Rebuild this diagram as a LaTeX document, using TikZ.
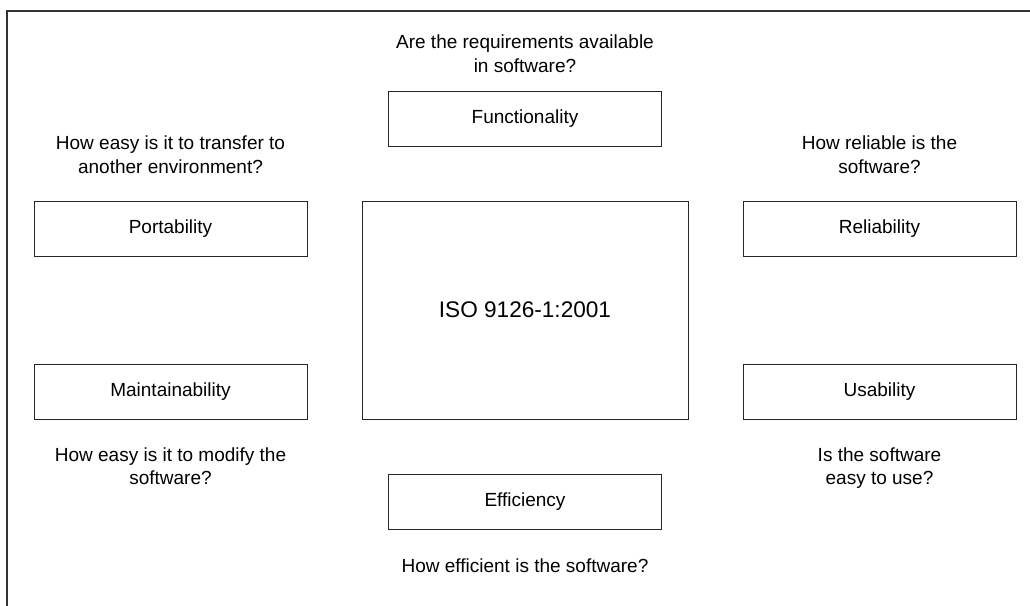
\documentclass[tikz,border=0pt]{standalone}
\usepackage{fontspec}
\setmainfont{Liberation Sans}
\usetikzlibrary{positioning}

\begin{document}
\begin{tikzpicture}[
  x=0.5pt, y=-0.5pt,
  every node/.style={font=\fontsize{9.5}{11.65}\selectfont, align=center},
  box/.style={draw=black!85, line width=0.5pt, inner sep=0pt},
  quality/.style={box, minimum width=136.5pt, minimum height=27.5pt},
  standard/.style={box, minimum width=163pt, minimum height=109pt, font=\fontsize{11.3}{13.8}\selectfont},
  question/.style={inner sep=0pt}
]
\useasboundingbox (0,0) rectangle (1030,606);
% frame
\draw[black!80, line width=1pt] (7,606) -- (7,11) -- (1030,11);

\node[standard] (iso) at (525,310) {ISO 9126-1:2001};

\node[quality, above=27pt of iso] (func) {Functionality};
\node[quality, below=27pt of iso] (eff) {Efficiency};
\node[quality, below left=0pt and 27pt of iso.north west] (port) {Portability};
\node[quality, above left=0pt and 27pt of iso.south west] (maint) {Maintainability};
\node[quality, below right=0pt and 27pt of iso.north east] (rel) {Reliability};
\node[quality, above right=0pt and 27pt of iso.south east] (usab) {Usability};

\node[question, above=8.85pt of func] (qfunc) {Are the requirements available\\in software?};
\node[question, above=13.4pt of port] (qport) {How easy is it to transfer to\\another environment?};
\node[question, above=13.4pt of rel] (qrel) {How reliable is the\\software?};
\node[question, below=13.8pt of maint] (qmaint) {How easy is it to modify the\\software?};
\node[question, below=13.8pt of usab] (qusab) {Is the software\\easy to use?};
\node[question, below=14.5pt of eff] (qeff) {How efficient is the software?};
\end{tikzpicture}
\end{document}
